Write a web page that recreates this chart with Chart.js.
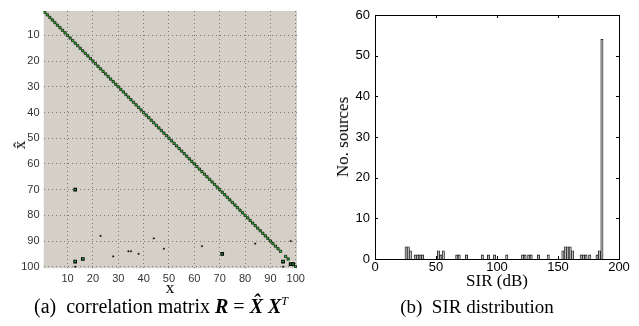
<!DOCTYPE html>
<html>
<head>
<meta charset="utf-8">
<script src="https://cdn.jsdelivr.net/npm/chart.js@4.4.1/dist/chart.umd.min.js"></script>
<style>
  body { margin: 0; background: #fff; }
  #wrap { position: relative; width: 639px; height: 326px; overflow: hidden; }
  canvas { position: absolute; top: 0; }
  .lbl { position: absolute; font-family: "Liberation Serif", serif; color: #000; white-space: nowrap; transform: translate(-50%, -50%); }
</style>
</head>
<body>
<div id="wrap">
  <canvas id="matrix" style="left:0" width="320" height="326"></canvas>
  <canvas id="sir" style="left:320px" width="319" height="326"></canvas>

  <div class="lbl" style="left:20px; top:145px; font-size:17px; transform: translate(-50%,-50%) rotate(-90deg)">x̂</div>
  <div class="lbl" style="left:170px; top:288px; font-size:17px">x</div>
  <div class="lbl" style="left:161px; top:306px; font-size:20px">(a)&nbsp; correlation matrix <b><i>R</i></b> = <b><i>X̂</i></b> <b><i>X</i></b><sup style="font-size:12px"><i>T</i></sup></div>

  <div class="lbl" style="left:343px; top:137px; font-size:17px; transform: translate(-50%,-50%) rotate(-90deg)">No. sources</div>
  <div class="lbl" style="left:497px; top:281px; font-size:17px">SIR (dB)</div>
  <div class="lbl" style="left:477px; top:307px; font-size:19px">(b)&nbsp; SIR distribution</div>
</div>

<script>
// --- correlation matrix (a) ---
// rows/cols of the diagonal that light up
const diagIdx = [1, 2, 3, 4, 5, 6, 7, 8, 9, 10, 11, 12, 13, 14, 15, 16, 17, 18, 19, 20,
  21, 22, 23, 24, 25, 26, 27, 28, 29, 30, 31, 32, 33, 34, 35, 36, 37, 38, 39, 40,
  41, 42, 43, 44, 45, 46, 47, 48, 49, 50, 51, 52, 53, 54, 55, 56, 57, 58, 59, 60,
  61, 62, 63, 64, 65, 66, 67, 68, 69, 70, 71, 72, 73, 74, 75, 76, 77, 78, 79, 80,
  81, 82, 83, 84, 85, 86, 87, 88, 89, 90, 91, 92, 93, 94, 96, 97, 100];
// strong off-diagonal entries
const strongX = [13, 13, 16, 71, 95, 98, 99];
const strongY = [70, 98, 97, 95, 98, 99, 99];
// weak off-diagonal entries
const weakX = [23, 28, 34, 35, 38, 44, 48, 63, 84, 98, 13, 95];
const weakY = [88, 96, 94, 94, 95, 89, 93, 92, 91, 90, 100, 100];
const matrixTicks = [10, 20, 30, 40, 50, 60, 70, 80, 90, 100];

// --- SIR histogram (b) ---
const sirBins = [25.5, 27.3, 29, 33, 35, 37, 39, 52, 54, 56, 67, 69, 75, 88, 93, 98, 108,
  121, 123, 126, 128, 134, 142, 154, 156, 158, 160, 162, 169, 171, 173, 176, 182, 184, 186];
const sirCounts = [3, 3, 2, 1, 1, 1, 1, 2, 1, 2, 1, 1, 1, 1, 1, 1, 1,
  1, 1, 1, 1, 1, 1, 2, 3, 3, 3, 2, 1, 1, 1, 1, 1, 2, 54];

const tickFont = { family: 'Liberation Sans, Arial, sans-serif' };

// fond gris de la zone de tracé
const areaBg = {
  id: 'areaBg',
  beforeDraw(chart, args, opts) {
    const a = chart.chartArea, c = chart.ctx;
    c.save();
    c.fillStyle = opts.color;
    c.fillRect(a.left, a.top, a.right - a.left, a.bottom - a.top);
    c.restore();
  }
};

// cadre + graduations vers l'intérieur (style matlab)
const boxTicks = {
  id: 'boxTicks',
  afterDraw(chart, args, opts) {
    if (!opts.enabled) return;
    const a = chart.chartArea, c = chart.ctx;
    const len = 3;
    c.save();
    c.strokeStyle = '#000';
    c.lineWidth = 1;
    c.strokeRect(Math.round(a.left) + 0.5, Math.round(a.top) + 0.5,
      Math.round(a.right - a.left), Math.round(a.bottom - a.top));
    c.beginPath();
    chart.scales.x.ticks.forEach(t => {
      const px = Math.round(chart.scales.x.getPixelForValue(t.value)) + 0.5;
      c.moveTo(px, a.bottom); c.lineTo(px, a.bottom - len);
      c.moveTo(px, a.top); c.lineTo(px, a.top + len);
    });
    chart.scales.y.ticks.forEach(t => {
      const py = Math.round(chart.scales.y.getPixelForValue(t.value)) + 0.5;
      c.moveTo(a.left, py); c.lineTo(a.left + len, py);
      c.moveTo(a.right, py); c.lineTo(a.right - len, py);
    });
    c.stroke();
    c.restore();
  }
};

new Chart(document.getElementById('matrix'), {
  type: 'scatter',
  plugins: [areaBg],
  data: {
    datasets: [
      {
        data: diagIdx.map(i => ({ x: i, y: i })),
        pointStyle: 'rect', pointRadius: 1.6,
        backgroundColor: '#2fd02f', borderColor: '#000', borderWidth: 0.7
      },
      {
        data: strongX.map((x, i) => ({ x: x, y: strongY[i] })),
        pointStyle: 'rect', pointRadius: 1.8,
        backgroundColor: '#2fd02f', borderColor: '#000', borderWidth: 1.1
      },
      {
        data: weakX.map((x, i) => ({ x: x, y: weakY[i] })),
        pointStyle: 'rect', pointRadius: 0.9,
        backgroundColor: '#111', borderColor: '#111', borderWidth: 0.5
      }
    ]
  },
  options: {
    responsive: false,
    animation: false,
    events: [],
    layout: { padding: { top: 11, right: 23, left: 0, bottom: 0 } },
    plugins: { legend: { display: false }, tooltip: { enabled: false }, areaBg: { color: '#d4d0c8' } },
    scales: {
      x: {
        type: 'linear', min: 0.5, max: 100.5,
        afterBuildTicks: s => { s.ticks = matrixTicks.map(v => ({ value: v })); },
        afterFit: s => { s.height = 58; },
        grid: { color: '#7a7a7a', lineWidth: 1, drawTicks: false },
        border: { display: true, color: '#f4f4f4', dash: [1, 3] },
        ticks: { font: { ...tickFont, size: 11 }, color: '#333', padding: 4, maxRotation: 0 }
      },
      y: {
        type: 'linear', min: 0.5, max: 100.5, reverse: true,
        afterBuildTicks: s => { s.ticks = matrixTicks.map(v => ({ value: v })); },
        afterFit: s => { s.width = 43.5; },
        grid: { color: '#7a7a7a', lineWidth: 1, drawTicks: false },
        border: { display: true, color: '#f4f4f4', dash: [1, 3] },
        ticks: { font: { ...tickFont, size: 11 }, color: '#333', padding: 4 }
      }
    }
  }
});

new Chart(document.getElementById('sir'), {
  type: 'bar',
  plugins: [boxTicks],
  data: {
    datasets: [{
      data: sirBins.map((b, i) => ({ x: b, y: sirCounts[i] })),
      backgroundColor: '#bdbdbd',
      borderColor: '#111',
      borderWidth: 0.8,
      barThickness: 2.3
    }]
  },
  options: {
    responsive: false,
    animation: false,
    events: [],
    layout: { padding: { top: 15, right: 20, left: 0, bottom: 0 } },
    plugins: { legend: { display: false }, tooltip: { enabled: false }, boxTicks: { enabled: true } },
    scales: {
      x: {
        type: 'linear', min: 0, max: 200, offset: false,
        ticks: { stepSize: 50, font: { ...tickFont, size: 13 }, color: '#000', padding: 1, maxRotation: 0 },
        afterFit: s => { s.height = 67; },
        grid: { display: false, offset: false, drawTicks: false },
        border: { display: false }
      },
      y: {
        min: 0, max: 60,
        ticks: { stepSize: 10, font: { ...tickFont, size: 13 }, color: '#000', padding: 5 },
        afterFit: s => { s.width = 55; },
        grid: { display: false, drawTicks: false },
        border: { display: false }
      }
    }
  }
});
</script>
</body>
</html>
